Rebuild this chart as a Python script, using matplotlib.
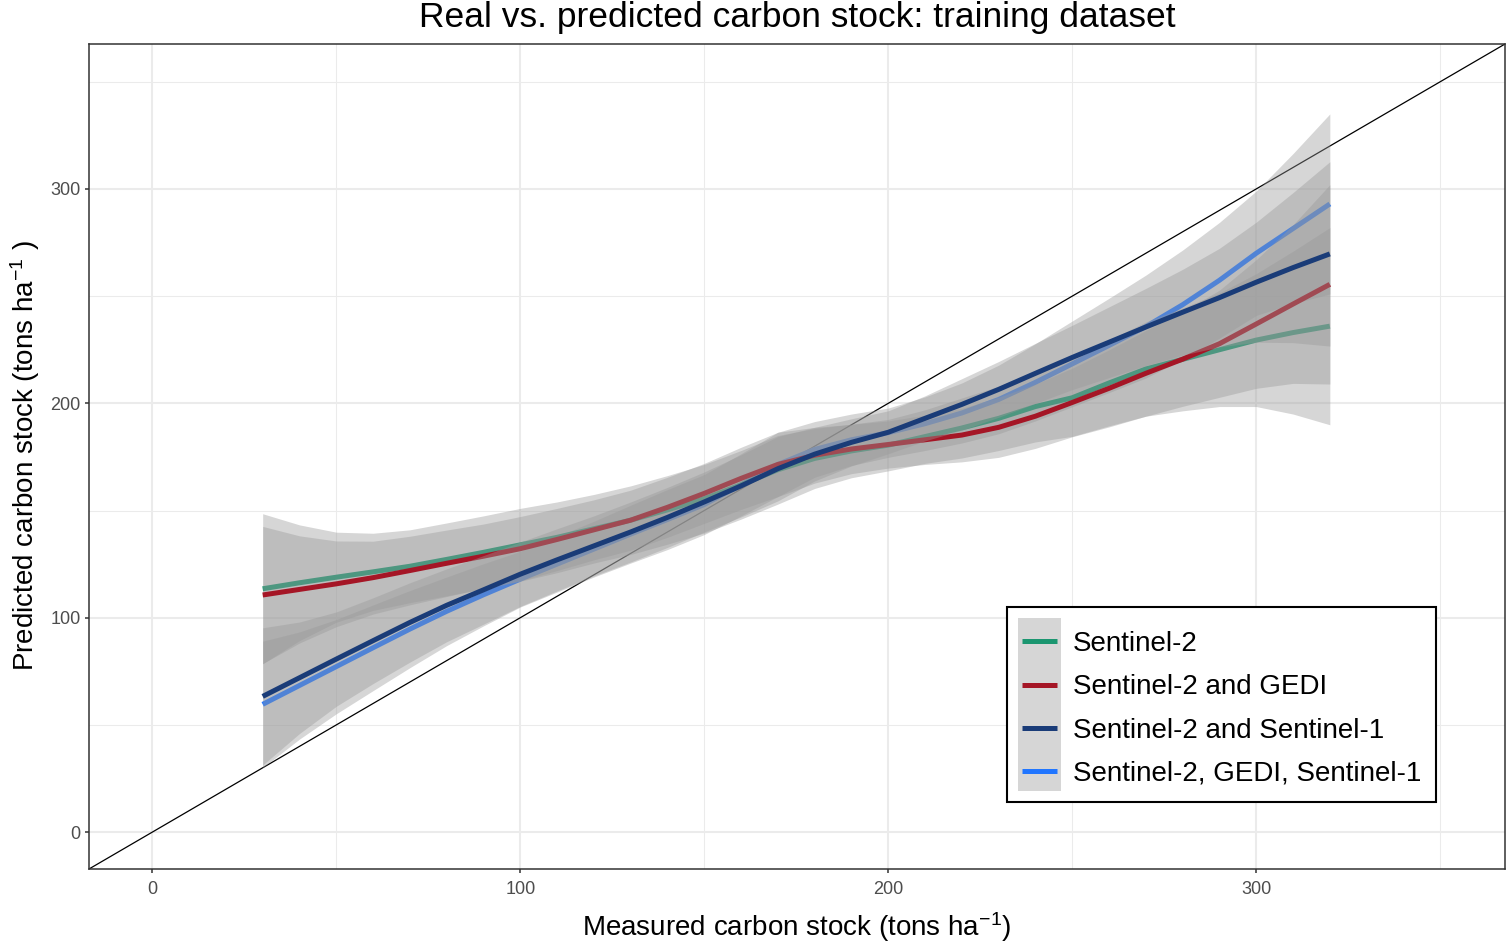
import matplotlib
matplotlib.use('Agg')
import matplotlib.pyplot as plt
from matplotlib.lines import Line2D
from matplotlib.patches import Rectangle
import numpy as np

plt.rcParams['font.family'] = ['Liberation Sans', 'DejaVu Sans']
plt.rcParams['mathtext.fontset'] = 'custom'
plt.rcParams['mathtext.rm'] = 'Liberation Sans'
plt.rcParams['mathtext.it'] = 'Liberation Sans:italic'
plt.rcParams['mathtext.default'] = 'regular'

# ---------------- data ----------------
measured = [30, 40, 50, 60, 70, 80, 90, 100, 110, 120, 130, 140, 150, 160, 170,
            180, 190, 200, 210, 220, 230, 240, 250, 260, 270, 280, 290, 300, 310, 320]

series_names = ["Sentinel-2", "Sentinel-2 and GEDI",
                "Sentinel-2 and Sentinel-1", "Sentinel-2, GEDI, Sentinel-1"]
series_colors = ["#1b9670", "#a51626", "#1a3c78", "#2176ff"]

pred_s2 = [113.5, 116.3, 118.9, 121.4, 124.0, 127.2, 130.5, 134.0, 137.5, 141.5,
           145.5, 150.3, 155.5, 162.0, 169.0, 174.3, 177.8, 180.5, 184.5, 188.5,
           193.0, 198.5, 202.6, 209.5, 216.0, 220.5, 225.0, 229.5, 233.0, 236.0]
pred_s2_gedi = [110.6, 113.2, 115.8, 118.7, 122.0, 125.4, 128.7, 132.2, 136.5, 141.0,
                145.5, 151.5, 158.0, 165.0, 171.5, 175.8, 178.7, 180.8, 183.0, 185.2,
                188.8, 194.0, 200.4, 207.0, 214.0, 220.6, 227.8, 237.0, 246.3, 255.5]
pred_s2_s1 = [63.3, 72.0, 80.7, 89.3, 97.8, 105.8, 113.0, 120.3, 127.0, 133.5,
              140.0, 146.8, 154.0, 161.5, 169.5, 176.3, 181.8, 186.5, 193.0, 199.5,
              206.5, 214.0, 221.4, 228.5, 235.6, 242.5, 249.3, 256.5, 263.3, 269.7]
pred_all = [59.6, 68.4, 77.2, 86.0, 94.7, 103.0, 110.7, 118.0, 125.0, 132.0,
            139.0, 145.8, 152.8, 162.0, 171.5, 178.5, 183.0, 186.3, 190.5, 195.5,
            201.8, 209.8, 218.4, 227.0, 235.8, 246.0, 257.4, 270.0, 281.5, 293.0]

# confidence band half-widths
ci_s2 = [35, 27, 21, 18, 17, 17, 17, 17, 16.5, 16, 16, 16, 16, 16, 16,
         14, 12.5, 12, 12.5, 14, 15, 16.5, 18, 20, 22, 24, 26.5, 31, 38, 46]
ci_s2_gedi = [32, 25, 20, 17, 16, 15.5, 15, 15, 14.5, 14, 14, 14, 14, 14.5, 15,
              13, 11.5, 11, 11.5, 12.5, 14, 15, 16, 18, 20, 22, 25, 30, 37, 46.5]
ci_s2_s1 = [32, 26, 22, 20, 18.5, 17, 16, 15, 14.5, 14, 14, 14, 14, 14.5, 15,
            12.5, 11, 10, 10.5, 12, 13, 14, 15, 16.5, 18, 20, 23, 28, 35, 43]
ci_all = [29.5, 25, 22, 20, 18, 16, 14.5, 13, 13, 13, 13.5, 14, 14, 14.5, 15,
          13, 12, 11.5, 12.5, 14, 16, 18, 20, 22, 24, 25.5, 27, 29, 35, 42]

preds = [pred_s2, pred_s2_gedi, pred_s2_s1, pred_all]
cis = [ci_s2, ci_s2_gedi, ci_s2_s1, ci_all]
draw_order = [3, 0, 1, 2]

major_ticks = [0, 100, 200, 300]
minor_ticks = [50, 150, 250, 350]
axis_lim = (-17.2, 367.6)

# ---------------- figure ----------------
W, H = 1506, 942
fig = plt.figure(figsize=(W / 100, H / 100), dpi=100)
fx = lambda p: p / W
fy = lambda p: 1 - p / H

ax = fig.add_axes([fx(89), fy(869), (1505 - 89) / W, (869 - 44) / H])

ax.set_xticks(major_ticks)
ax.set_yticks(major_ticks)
ax.set_xticks(minor_ticks, minor=True)
ax.set_yticks(minor_ticks, minor=True)
ax.grid(which='major', color='#ebebeb', linewidth=1.5, zorder=0)
ax.grid(which='minor', color='#ebebeb', linewidth=0.75, zorder=0)
ax.set_axisbelow(True)
ax.tick_params(which='minor', length=0)
ax.tick_params(which='major', length=3.2, width=1.1, color='#333333',
               labelcolor='#4d4d4d', labelsize=13, pad=3)
ax.tick_params(axis='x', which='major', pad=5.5)
for s in ax.spines.values():
    s.set_color('#333333')
    s.set_linewidth(1.1)

ax.axline((0, 0), slope=1, color='black', linewidth=0.9, zorder=1)

z = 2
for i in draw_order:
    y = np.array(preds[i])
    c = np.array(cis[i])
    ax.fill_between(measured, y - c, y + c, color='#999999', alpha=0.4,
                    linewidth=0, zorder=z)
    ax.plot(measured, y, color=series_colors[i], linewidth=3.6, zorder=z + 1,
            solid_capstyle='butt')
    z += 2

ax.set_xlim(*axis_lim)
ax.set_ylim(*axis_lim)

# titles
fig.text(fx(797), fy(27), "Real vs. predicted carbon stock: training dataset",
         ha='center', va='baseline', fontsize=25.5, color='black')
fig.text(fx(797), fy(936), "Measured carbon stock (tons ha$^{-1}$)",
         ha='center', va='baseline', fontsize=20, color='black')
fig.text(fx(25), fy(456), "Predicted carbon stock (tons ha$^{-1}$ )",
         ha='center', va='center', rotation=90, fontsize=20, color='black')

# legend (manual, ggplot style)
fig.add_artist(Rectangle((fx(1007), fy(802)), (1436 - 1007) / W, (802 - 607) / H,
                         transform=fig.transFigure, facecolor='white',
                         edgecolor='black', linewidth=1.5, zorder=20))
fig.add_artist(Rectangle((fx(1018), fy(791)), (1061 - 1018) / W, (791 - 618) / H,
                         transform=fig.transFigure, facecolor='#d6d6d6',
                         edgecolor='none', zorder=21))
key_y = [641, 684.5, 728, 771]
for name, col, yy in zip(series_names, series_colors, key_y):
    fig.add_artist(Line2D([fx(1022), fx(1057)], [fy(yy), fy(yy)],
                          transform=fig.transFigure, color=col, linewidth=3.6,
                          solid_capstyle='butt', zorder=22))
    fig.text(fx(1073), fy(yy), name, ha='left', va='center_baseline',
             fontsize=20, color='black', zorder=22)

fig.savefig('out.png', dpi=100)
